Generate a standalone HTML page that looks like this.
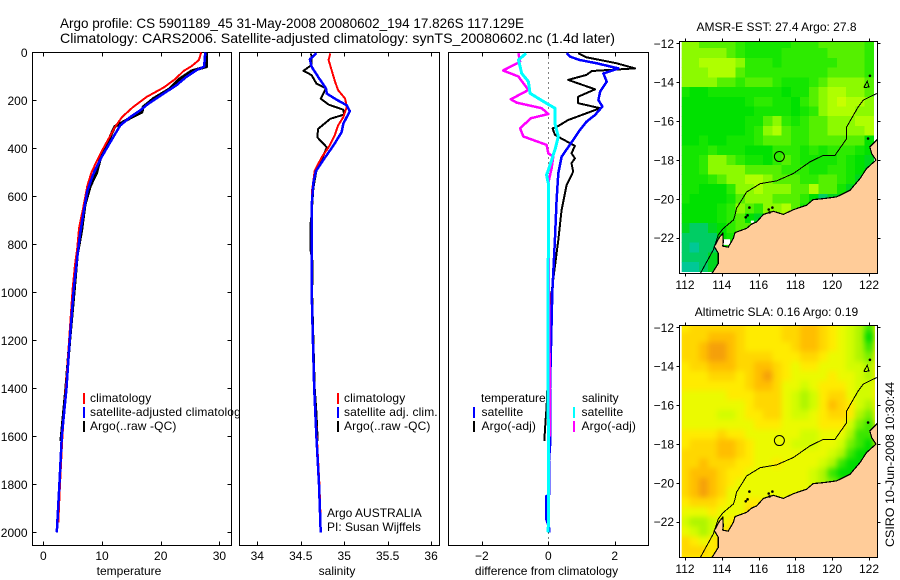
<!DOCTYPE html>
<html>
<head>
<meta charset="utf-8">
<title>Argo profile 5901189_45</title>
<style>
html,body{margin:0;padding:0;background:#fff;}
svg{display:block;font-family:"Liberation Sans",sans-serif;font-size:12px;fill:#000;}
</style>
</head>
<body>
<svg id="fig" width="900" height="580" viewBox="0 0 900 580" xmlns="http://www.w3.org/2000/svg">
<defs>
<filter id="slaSmooth" filterUnits="userSpaceOnUse" x="650" y="300" width="250" height="280" color-interpolation-filters="sRGB"><feGaussianBlur stdDeviation="2.6"/></filter>
</defs>
<rect width="900" height="580" fill="#fff"/>
<g id="panels"></g>
<g id="maps"></g>
<g id="annot">
<text x="60" y="28" font-size="14" textLength="464" lengthAdjust="spacingAndGlyphs">Argo profile: CS 5901189_45 31-May-2008 20080602_194 17.826S 117.129E</text>
<text x="60" y="43" font-size="14" textLength="555" lengthAdjust="spacingAndGlyphs">Climatology: CARS2006. Satellite-adjusted climatology: synTS_20080602.nc (1.4d later)</text>
<text x="129" y="575" text-anchor="middle">temperature</text>
<text x="337" y="575" text-anchor="middle">salinity</text>
<text x="546.5" y="575" text-anchor="middle">difference from climatology</text>
<text x="776.5" y="31" text-anchor="middle">AMSR-E SST: 27.4 Argo: 27.8</text>
<text x="776.5" y="316" text-anchor="middle">Altimetric SLA: 0.16 Argo: 0.19</text>
<text transform="translate(894,547) rotate(-90)" textLength="165" lengthAdjust="spacingAndGlyphs">CSIRO 10-Jun-2008 10:30:44</text>
<text x="327" y="517">Argo AUSTRALIA</text>
<text x="327" y="531">PI: Susan Wijffels</text>
</g>
</svg>
<script>
/* ---------- profile data: [depth, value] pairs ---------- */
const tempClim = [[0,26.9],[32,26.5],[57,25.3],[78,23.9],[113,22.4],[147,20.5],[186,17.6],[228,15.3],[270,13.4],[312,12.2],[361,11.1],[424,9.7],[501,8.2],[557,7.5],[648,6.8],[731,6.1],[815,5.8],[885,5.4],[983,5.0],[1200,4.4],[1400,3.85],[1600,3.25],[1800,2.85],[1960,2.55]];
const tempArgo = [[0,27.8],[60,27.8],[77,25.3],[109,23.3],[151,21.6],[193,18.75],[228,17.0],[249,16.8],[270,15.1],[309,12.2],[340,11.6],[389,10.8],[445,9.7],[501,9.1],[557,8.0],[634,7.1],[745,6.5],[843,5.8],[983,5.3],[1200,4.5],[1400,3.85],[1500,3.45],[1620,3.0]];
const tempSat = [[0,27.6],[60,27.4],[74,26.1],[102,24.4],[137,22.7],[172,20.5],[214,17.9],[242,16.5],[270,14.8],[305,13.1],[375,11.4],[438,9.9],[508,8.5],[578,7.5],[675,6.8],[759,6.25],[871,5.7],[983,5.2],[1200,4.5],[1400,3.95],[1600,3.15],[1800,2.75],[2000,2.3]];
const salClim = [[4,34.84],[32,34.82],[74,34.855],[123,34.895],[158,34.93],[193,35.01],[228,35.03],[270,34.99],[305,34.93],[347,34.89],[396,34.82],[438,34.74],[494,34.66],[578,34.63],[690,34.625],[983,34.625],[1400,34.655],[1600,34.685],[1800,34.715],[1960,34.73]];
const salArgo = [[4,34.62],[53,34.625],[77,34.53],[95,34.625],[130,34.68],[151,34.79],[193,34.73],[218,34.82],[239,34.99],[259,35.0],[277,34.84],[319,34.70],[354,34.69],[396,34.80],[431,34.76],[494,34.68],[564,34.645],[676,34.625],[710,34.615],[829,34.615],[871,34.635],[955,34.635],[983,34.63],[1400,34.66],[1500,34.68],[1620,34.695]];
const salSat = [[4,34.68],[29,34.605],[60,34.625],[102,34.70],[151,34.79],[172,34.80],[197,34.91],[221,35.03],[245,35.065],[298,34.99],[333,34.97],[389,34.875],[438,34.78],[494,34.675],[543,34.645],[620,34.63],[983,34.625],[1200,34.64],[1400,34.655],[1600,34.68],[1800,34.71],[2000,34.73]];
const diffTempSat = [[4,0.55],[18,0.65],[32,0.95],[46,1.46],[67,2.11],[88,1.66],[122,1.76],[164,1.56],[199,1.51],[226,1.63],[261,1.41],[289,1.15],[324,0.95],[365,0.75],[435,0.40],[504,0.30],[615,0.25],[782,0.20],[1000,0.12],[1400,0.05],[1640,0.05],[1700,0.02],[1845,0.02],[1850,-0.06],[1945,-0.06],[1980,0.02],[2000,0.02]];
const diffTempArgo = [[4,0.90],[21,1.15],[46,2.06],[67,2.61],[78,1.31],[94,1.15],[115,0.60],[154,1.41],[185,0.90],[212,0.90],[233,1.56],[282,0.60],[307,0.30],[317,0.13],[344,0.20],[390,0.80],[421,0.70],[442,0.80],[462,0.70],[497,0.75],[553,0.55],[657,0.40],[782,0.30],[1000,0.10],[1200,0.03],[1477,-0.05],[1532,-0.08],[1620,-0.12]];
const diffSalArgo = [[4,-0.90],[39,-0.85],[76,-1.36],[101,-0.90],[157,-0.60],[196,-1.13],[210,-0.95],[233,-0.20],[257,0.0],[275,-0.53],[317,-0.85],[351,-0.75],[386,-0.05],[421,0.0],[435,0.15],[483,0.10],[525,0.03],[546,0.0],[1000,0.02],[1500,0.05],[1600,0.05]];
const diffSalSat = [[4,-0.67],[32,-0.90],[60,-0.85],[88,-0.80],[122,-0.60],[171,-0.55],[213,-0.05],[233,0.20],[296,0.20],[351,0.30],[407,0.20],[469,0.05],[511,-0.05],[546,0.0],[782,0.0],[1400,-0.01],[1700,0.01],[1950,0.01],[2000,-0.01]];

/* ---------- axis tick labels ---------- */
const depthTicks = [0,200,400,600,800,1000,1200,1400,1600,1800,2000];
const tempTicks = [0,10,20,30];
const salTicks = [34,34.5,35,35.5,36];
const diffTicks = [-2,0,2];
const lonTicks = [112,114,116,118,120,122];
const latTicks = [-12,-14,-16,-18,-20,-22];

/* ---------- map grids: rows from 12S southward at 0.5 deg, columns from 112E eastward at 0.5 deg;
   values are colour-scale levels -------------------------------- */
const sstCells = [
[7,7,6,6,6,6,5,4,4,4,4,4,5,5,5,6,6,6,6,6,5],
[7,7,7,7,7,6,5,4,4,4,4,5,5,5,5,5,6,6,6,6,5],
[7,7,8,8,8,8,7,5,5,5,4,5,5,5,5,5,5,6,6,6,5],
[7,7,7,8,8,8,6,5,5,5,5,5,5,5,5,5,6,6,6,6,5],
[7,7,7,7,6,6,5,6,6,6,5,4,4,4,5,6,7,7,7,7,6],
[4,3,3,4,4,4,4,4,4,4,4,3,4,4,6,7,8,8,7,7,6],
[3,3,3,3,3,3,3,4,5,5,4,4,3,5,6,7,8,9,8,8,7],
[3,3,3,3,3,3,3,3,4,4,4,4,3,4,5,7,8,8,8,7,7],
[3,3,3,3,3,3,3,4,4,6,7,5,4,5,6,6,7,7,7,8,8],
[3,3,3,3,3,3,3,4,5,7,8,6,5,5,6,6,7,7,7,7,8],
[3,3,4,3,3,4,4,4,5,6,6,6,5,5,6,6,6,6,6,6,3],
[4,4,4,5,4,4,4,3,3,3,5,5,5,4,5,4,5,5,5,4,3],
[4,4,5,7,7,6,5,4,4,3,5,6,5,4,4,4,4,5,4,3,2],
[4,4,5,7,7,7,7,6,6,6,6,5,5,5,4,4,5,5,4,3,2],
[4,4,4,5,6,7,7,8,8,7,6,6,6,5,5,6,6,5,4,2,2],
[4,4,3,3,3,5,7,7,8,7,7,7,6,6,8,6,6,4,2,1,1],
[4,3,3,3,3,4,6,7,7,7,6,6,6,5,3,1,2,2,2,2,2],
[3,3,3,3,4,5,7,6,5,7,7,8,6,4,3,3,3,3,3,3,3],
[3,3,3,3,4,5,6,3,2,3,3,2,2,2,2,2,2,2,2,2,2],
[2,1,1,2,3,5,6,6,4,3,3,3,3,3,3,3,3,3,3,3,3],
[1,1,1,1,3,4,4,3,3,3,3,3,3,3,3,3,3,3,3,3,3],
[1,0,1,1,3,5,4,4,4,4,4,4,4,4,4,4,4,4,4,4,4],
[1,1,1,2,3,4,5,5,5,5,5,5,5,5,5,5,5,5,5,5,5],
[0,0,1,2,3,4,4,4,4,4,4,4,4,4,4,4,4,4,4,4,4]
];
const slaCells = [
[6,7,7,7,7,7,7,6,6,6,6,7,7,8,8,7,6,5,4,3,1],
[7,7,7,8,8,8,7,6,6,6,6,7,7,8,8,7,6,5,4,3,0],
[7,7,8,9,9,8,7,6,6,6,6,6,7,8,8,7,6,5,4,3,1],
[7,7,8,9,9,8,7,7,7,7,6,6,6,7,7,6,5,5,4,3,2],
[6,7,7,8,8,8,7,7,8,8,7,6,5,6,6,5,5,5,4,4,3],
[6,6,6,7,7,7,6,7,8,9,7,6,5,5,5,5,6,5,5,4,3],
[6,6,6,6,6,6,6,7,8,8,7,5,5,4,5,6,6,6,5,4,4],
[5,5,5,5,5,6,6,6,7,7,7,5,4,3,4,6,7,7,5,4,4],
[5,5,5,5,5,5,5,6,7,7,7,5,4,3,4,6,8,7,6,4,3],
[5,5,5,5,4,4,5,6,6,7,7,5,4,4,5,6,7,7,6,3,2],
[5,5,5,5,5,5,5,5,6,6,6,5,5,5,5,6,6,6,4,2,1],
[6,6,6,6,7,6,6,5,5,5,5,5,5,4,4,5,5,5,3,1,1],
[6,7,7,7,8,8,7,6,5,5,5,5,4,4,4,5,5,4,2,1,0],
[7,7,7,7,8,8,7,6,5,5,5,5,5,5,5,5,4,3,1,0,0],
[7,7,8,7,7,7,6,6,5,5,6,5,5,5,5,4,3,1,0,0,0],
[7,8,8,8,7,6,6,5,5,5,5,5,5,5,4,3,1,0,0,0,0],
[7,8,9,8,7,6,5,5,5,5,5,5,5,5,4,3,2,1,1,1,1],
[7,8,9,8,7,5,5,5,5,5,5,5,5,5,5,5,5,5,5,5,5],
[6,7,7,7,6,5,5,6,6,5,5,5,5,5,5,5,5,5,5,5,5],
[5,5,5,6,5,5,5,7,7,6,6,6,6,6,6,6,6,6,6,6,6],
[4,3,3,4,5,6,6,7,6,6,6,6,6,6,6,6,6,6,6,6,6],
[5,4,3,4,6,7,6,8,8,8,8,8,8,8,8,8,8,8,8,8,8],
[7,6,5,6,7,7,7,7,7,7,7,7,7,7,7,7,7,7,7,7,7],
[7,7,7,6,7,7,7,7,7,7,7,7,7,7,7,7,7,7,7,7,7]
];

/* ---------- geography: [lon, lat] ---------- */
const coastline = [[113.45,-23.86],[113.81,-23.32],[113.81,-22.80],[113.59,-22.46],[113.87,-21.98],[114.05,-21.77],[114.08,-22.21],[114.05,-22.43],[114.35,-22.49],[114.63,-22.03],[114.72,-21.74],[115.35,-21.52],[115.62,-21.30],[115.89,-21.19],[116.26,-20.80],[116.80,-20.64],[117.34,-20.80],[117.89,-20.56],[118.61,-20.33],[118.97,-20.04],[119.52,-19.99],[120.24,-19.90],[120.97,-19.56],[121.51,-18.96],[121.87,-18.44],[122.38,-18.01],[122.14,-17.67],[122.05,-17.33],[122.45,-16.95]];
const isobath = [[112.82,-23.86],[113.54,-22.63],[113.81,-21.86],[114.05,-21.55],[114.63,-21.09],[114.72,-20.85],[114.8,-20.49],[115.08,-20.06],[115.35,-19.65],[116.08,-19.22],[116.98,-19.08],[117.89,-18.70],[118.79,-18.10],[119.52,-17.76],[120.15,-17.76],[120.79,-16.90],[120.79,-16.30],[121.42,-15.26],[121.69,-14.92],[122.42,-14.58]];
const reefOutline = [[121.72,-14.28],[121.9,-13.95],[122.0,-14.25],[121.72,-14.28]];
const reefDots = [[122.05,-13.67],[115.5,-20.45],[115.4,-20.85],[115.3,-20.95],[116.55,-20.55],[116.75,-20.45],[116.6,-20.7],[121.95,-16.9]];
const sstGaps = [[114.08,-22.08,114.45,-22.37],[115.58,-21.12,115.75,-21.24]];
const profileLon = 117.129;
const profileLat = -17.826;

/* ---------- colour ramps (style, indexed by level) ---------- */
const sstRamp = ['#00c896','#00cd64','#00d71e','#00e100','#14e600','#2deb00','#55f000','#8cfa00','#afff00','#c8ff00'];
const slaRamp = ['#00dc00','#3ce600','#78f000','#aff500','#d2fc00','#ebfa00','#ffeb00','#ffd700','#ffbe00','#f5a00a'];

const NS = 'http://www.w3.org/2000/svg';
function mk(parent, tag, attrs, txt){
  const el = document.createElementNS(NS, tag);
  for (const k in attrs) el.setAttribute(k, attrs[k]);
  if (txt !== undefined) el.textContent = txt;
  parent.appendChild(el);
  return el;
}
function linear(d0, r0, d1, r1){ return v => r0 + (v - d0) * (r1 - r0) / (d1 - d0); }
function fmt(v){ return String(v).replace('-', '\u2212'); }

const depthY = linear(0, 52.3, 2000, 532.3);
const panelTop = 52.5, panelBot = 545.5;
const panelsG = document.getElementById('panels');

function drawPanel(name, left, right, xScale, xTicks, showDepth){
  const g = mk(panelsG, 'g', {});
  
  
  const bg = mk(g, 'rect', {x:left, y:panelTop, width:right-left, height:panelBot-panelTop, fill:'#fff', stroke:'#000', 'stroke-width':1, 'shape-rendering':'crispEdges'});
  
  
  xTicks.forEach(t => {
    const x = Math.round(xScale(t)) + 0.5;
    const tk = mk(g, 'path', {d:`M${x} ${panelTop}v4M${x} ${panelBot}v-4`, stroke:'#000', 'stroke-width':1, fill:'none', 'shape-rendering':'crispEdges'});
    
    
    const lb = mk(g, 'text', {x:xScale(t), y:560, 'text-anchor':'middle'}, fmt(t));
    
    
  });
  if (showDepth) depthTicks.forEach(d => {
    const y = Math.round(depthY(d)) + 0.5;
    const tk = mk(g, 'path', {d:`M${left} ${y}h4M${right} ${y}h-4`, stroke:'#000', 'stroke-width':1, fill:'none', 'shape-rendering':'crispEdges'});
    
    
    const lb = mk(g, 'text', {x:27.5, y:depthY(d)+4.5, 'text-anchor':'end'}, d);
    
    
  });
  return g;
}
function drawProfile(g, name, rows, xScale, color, width){
  const pts = rows.map(r => xScale(r[1]).toFixed(1) + ',' + depthY(r[0]).toFixed(1)).join(' ');
  const el = mk(g, 'polyline', {points:pts, fill:'none', stroke:color, 'stroke-width':width, 'stroke-linejoin':'round', 'shape-rendering':'crispEdges'});
  
  
}
function legendEntry(g, name, x, textX, baseline, color, label){
  const bar = mk(g, 'rect', {x:x, y:baseline-9, width:2, height:11, fill:color});
  
  
  const t = mk(g, 'text', {x:textX, y:baseline, 'letter-spacing':'0.12'}, label);
  
  
}

/* temperature panel */
const xTemp = linear(0, 43.3, 30, 219.4);
const pT = drawPanel('temperature', 32.5, 231.5, xTemp, tempTicks, true);
drawProfile(pT, 'temperature-argo-line', tempArgo, xTemp, '#000', 3);
drawProfile(pT, 'temperature-climatology-line', tempClim, xTemp, '#f00', 2);
drawProfile(pT, 'temperature-satellite-line', tempSat, xTemp, '#00f', 2.5);
legendEntry(pT, 'legend-climatology', 83, 90, 402, '#f00', 'climatology');
legendEntry(pT, 'legend-satellite-adjusted', 83, 90, 416, '#00f', 'satellite-adjusted climatology');
legendEntry(pT, 'legend-argo', 83, 90, 430, '#000', 'Argo(..raw -QC)');

/* salinity panel */
const xSal = linear(34, 257.3, 36, 431.1);
const pS = drawPanel('salinity', 239.5, 439.5, xSal, salTicks, false);
drawProfile(pS, 'salinity-argo-line', salArgo, xSal, '#000', 2);
drawProfile(pS, 'salinity-climatology-line', salClim, xSal, '#f00', 2);
drawProfile(pS, 'salinity-satellite-line', salSat, xSal, '#00f', 2.5);
legendEntry(pS, 'legend-sal-climatology', 337, 344, 402, '#f00', 'climatology');
legendEntry(pS, 'legend-sal-satellite', 337, 344, 416, '#00f', 'satellite adj. clim.');
legendEntry(pS, 'legend-sal-argo', 337, 344, 430, '#000', 'Argo(..raw -QC)');

/* difference panel */
const xDiff = linear(-2, 481.9, 2, 614.7);
const pD = drawPanel('difference', 448.5, 648.5, xDiff, diffTicks, false);
const zeroLine = mk(pD, 'line', {x1:Math.round(xDiff(0))+0.5, x2:Math.round(xDiff(0))+0.5, y1:panelTop, y2:panelBot, stroke:'#000', 'stroke-width':1, 'stroke-dasharray':'1 4', 'shape-rendering':'crispEdges'});


drawProfile(pD, 'diff-temperature-argo-line', diffTempArgo, xDiff, '#000', 2);
drawProfile(pD, 'diff-temperature-satellite-line', diffTempSat, xDiff, '#00f', 2.5);
drawProfile(pD, 'diff-salinity-argo-line', diffSalArgo, xDiff, '#f0f', 2.5);
drawProfile(pD, 'diff-salinity-satellite-line', diffSalSat, xDiff, '#0ff', 3);
const hdrT = mk(pD, 'text', {x:481, y:402}, 'temperature');


const hdrS = mk(pD, 'text', {x:582, y:402}, 'salinity');


legendEntry(pD, 'legend-diff-temp-satellite', 473, 481.5, 416, '#00f', 'satellite');
legendEntry(pD, 'legend-diff-temp-argo', 473, 481.5, 430, '#000', 'Argo(-adj)');
legendEntry(pD, 'legend-diff-sal-satellite', 573, 581.5, 416, '#0ff', 'satellite');
legendEntry(pD, 'legend-diff-sal-argo', 573, 581.5, 430, '#f0f', 'Argo(-adj)');

/* maps */
const mapsG = document.getElementById('maps');
const lonX = linear(112, 685, 122, 869);
const mapL = 679.5, mapR = 877.5;

function drawMap(name, top, bottom, lat12Y, cells, ramp, labelY, clipId, smooth, gaps){
  const latY = v => lat12Y + (-12 - v) * 19.44;
  const g = mk(mapsG, 'g', {});
  
  
  const defs = mk(g, 'defs', {});
  const cp = mk(defs, 'clipPath', {id:clipId});
  mk(cp, 'rect', {x:mapL, y:top, width:mapR-mapL, height:bottom-top});
  const cp2 = mk(defs, 'clipPath', {id:clipId + 'c'});
  mk(cp2, 'rect', {x:681.7, y:top, width:875-681.7, height:bottom-top});

  const clipG = mk(g, 'g', {'clip-path':`url(#${clipId}c)`});
  const cg = mk(clipG, 'g', {'shape-rendering':'crispEdges'});
  if (smooth) {
    cg.setAttribute('filter', 'url(#slaSmooth)');
    mk(cg, 'rect', {x:660, y:top-10, width:235, height:bottom-top+20, fill:ramp[6]});
  }
  
  
  cells.forEach((row, j) => row.forEach((v, i) => {
    const lon = 112 + i * 0.5, lat = -12 - j * 0.5;
    const x0 = lonX(lon - 0.25), x1 = lonX(lon + 0.25), y0 = latY(lat + 0.25), y1 = latY(lat - 0.25);
    const c = mk(cg, 'rect', {x:x0.toFixed(1), y:y0.toFixed(1), width:(x1-x0+0.5).toFixed(1), height:(y1-y0+0.5).toFixed(1), fill:ramp[v]});
    
    
  }));

  const gg = mk(g, 'g', {'clip-path':`url(#${clipId})`});
  const toPts = arr => arr.map(p => lonX(p[0]).toFixed(1) + ',' + latY(p[1]).toFixed(1)).join(' ');
  const landPts = toPts(coastline) + ` ${mapR},${latY(-16.95).toFixed(1)} ${mapR},${bottom} ${lonX(113.45).toFixed(1)},${bottom}`;
  const land = mk(gg, 'polygon', {points:landPts, fill:'#ffcc99', stroke:'none'});
  
  
  gaps.forEach(b => {
    const gap = mk(gg, 'rect', {x:lonX(b[0]), y:latY(b[1]), width:lonX(b[2])-lonX(b[0]), height:latY(b[3])-latY(b[1]), fill:'#fff'});
    
    
  });
  const coast = mk(gg, 'polyline', {points:toPts(coastline), fill:'none', stroke:'#000', 'stroke-width':1.2, 'shape-rendering':'crispEdges'});
  
  
  const iso = mk(gg, 'polyline', {points:toPts(isobath), fill:'none', stroke:'#000', 'stroke-width':1, 'shape-rendering':'crispEdges'});
  
  
  const reef = mk(gg, 'polyline', {points:toPts(reefOutline), fill:'none', stroke:'#000', 'stroke-width':1, 'shape-rendering':'crispEdges'});
  
  
  reefDots.forEach(p => {
    const d = mk(gg, 'circle', {cx:lonX(p[0]), cy:latY(p[1]), r:1.3, fill:'#000'});
    
    
  });
  const marker = mk(gg, 'circle', {cx:lonX(profileLon), cy:latY(profileLat), r:5, fill:'none', stroke:'#000', 'stroke-width':1});
  
  

  const frame = mk(g, 'rect', {x:mapL, y:top, width:mapR-mapL, height:bottom-top, fill:'none', stroke:'#000', 'stroke-width':1, 'shape-rendering':'crispEdges'});
  
  

  lonTicks.forEach(t => {
    const x = Math.round(lonX(t)) + 0.5;
    const tk = mk(g, 'path', {d:`M${x} ${top}v-3M${x} ${bottom}v3`, stroke:'#000', 'stroke-width':1, fill:'none', 'shape-rendering':'crispEdges'});
    
    
    const lb = mk(g, 'text', {x:lonX(t), y:labelY, 'text-anchor':'middle'}, t);
    
    
  });
  latTicks.forEach(t => {
    const y = Math.round(latY(t)) + 0.5;
    const tk = mk(g, 'path', {d:`M${mapL} ${y}h-3M${mapR} ${y}h3`, stroke:'#000', 'stroke-width':1, fill:'none', 'shape-rendering':'crispEdges'});
    
    
    const lb = mk(g, 'text', {x:674, y:latY(t)+4.5, 'text-anchor':'end'}, fmt(t));
    
    
  });
}
drawMap('sst', 41.5, 273.5, 43.3, sstCells, sstRamp, 289, 'clipSst', false, sstGaps);
drawMap('sla', 325.5, 557.5, 327.3, slaCells, slaRamp, 573, 'clipSla', true, []);
</script>
</body>
</html>
